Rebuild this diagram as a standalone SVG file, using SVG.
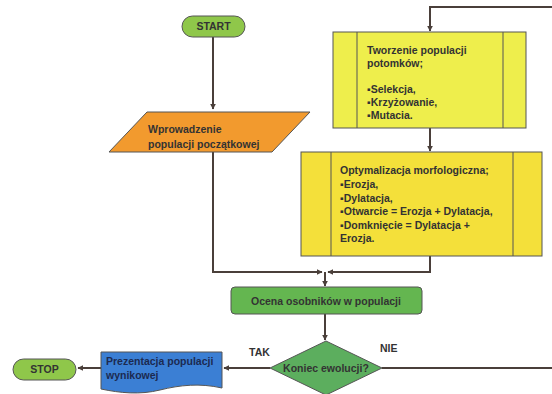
<svg xmlns="http://www.w3.org/2000/svg" width="552" height="394" viewBox="0 0 552 394">
<defs>
<marker id="ah" viewBox="0 0 10 10" refX="9" refY="5" markerWidth="6" markerHeight="6" orient="auto" markerUnits="userSpaceOnUse">
<path d="M0,0 L10,5 L0,10 Z" fill="#4a3f3a"/>
</marker>
<style>
.t{font-family:"Liberation Sans",Arial,sans-serif;font-weight:bold;font-size:10.5px;fill:#333}
.c{fill:none;stroke:#4a3f3a;stroke-width:2}
.ca{fill:none;stroke:#4a3f3a;stroke-width:2;marker-end:url(#ah)}
.n{stroke:#555;stroke-width:1}
</style>
</defs>
<rect width="552" height="394" fill="#fff"/>
<g id="connectors">
<path class="ca" d="M213,37 V109"/>
<path class="ca" d="M213,152 V272 H322"/>
<path class="ca" d="M430,256 V272 H328"/>
<path class="ca" d="M325,272 V286"/>
<path class="ca" d="M552,7 H430 V31"/>
<path class="ca" d="M430,128 V151"/>
<path class="ca" d="M325,314 V340"/>
<path class="ca" d="M270,368 H224"/>
<path class="ca" d="M101,368 H78"/>
<path class="c" d="M382,368 H552"/>
</g>
<g id="start">
<rect class="n" x="182" y="16" width="63" height="21" rx="10.5" fill="#8fc74a" stroke="#444"/>
<text class="t" x="213.5" y="30" text-anchor="middle">START</text>
</g>
<g id="input">
<path class="n" d="M147,112 H310 L272,152 H109 Z" fill="#f29a2e"/>
<text class="t" x="148" y="133">Wprowadzenie</text>
<text class="t" x="148" y="148">populacji początkowej</text>
</g>
<g id="tworzenie">
<rect class="n" x="333" y="32" width="193" height="96" fill="#eeee4c"/>
<path class="n" d="M357,32 V128 M503,32 V128" fill="none"/>
<text class="t" x="367" y="54">Tworzenie populacji</text>
<text class="t" x="367" y="67">potomków;</text>
<text class="t" x="367" y="93">▪Selekcja,</text>
<text class="t" x="367" y="106">▪Krzyżowanie,</text>
<text class="t" x="367" y="119">▪Mutacia.</text>
</g>
<g id="optymalizacja">
<rect class="n" x="301" y="152" width="241" height="104" fill="#f4e03a"/>
<path class="n" d="M331,152 V256 M513,152 V256" fill="none"/>
<text class="t" x="340" y="174">Optymalizacja morfologiczna;</text>
<text class="t" x="340" y="188">▪Erozja,</text>
<text class="t" x="340" y="202">▪Dylatacja,</text>
<text class="t" x="340" y="215">▪Otwarcie = Erozja + Dylatacja,</text>
<text class="t" x="340" y="229">▪Domknięcie = Dylatacja +</text>
<text class="t" x="340" y="242">Erozja.</text>
</g>
<g id="ocena">
<rect class="n" x="231" y="287" width="191" height="27" rx="4" fill="#64b650"/>
<text class="t" x="326" y="305" text-anchor="middle">Ocena osobników w populacji</text>
</g>
<g id="decyzja">
<path class="n" d="M326,341 L382,368 L326,395 L270,368 Z" fill="#5cae5e"/>
<text class="t" x="326" y="372" text-anchor="middle">Koniec ewolucji?</text>
</g>
<g id="labels">
<text class="t" x="249" y="356">TAK</text>
<text class="t" x="380" y="352">NIE</text>
</g>
<g id="prezentacja">
<path class="n" d="M101,352 H222 V388 C200,383 180,385 160,390 C140,395 120,393 101,389 Z" fill="#3b7fd4" stroke="#1f3f7a"/>
<text class="t" x="106" y="365" style="fill:#1c2a50">Prezentacja populacji</text>
<text class="t" x="106" y="379" style="fill:#1c2a50">wynikowej</text>
</g>
<g id="stop">
<rect class="n" x="13" y="359" width="63" height="21" rx="10.5" fill="#8fc74a" stroke="#444"/>
<text class="t" x="44.5" y="373" text-anchor="middle">STOP</text>
</g>
</svg>
